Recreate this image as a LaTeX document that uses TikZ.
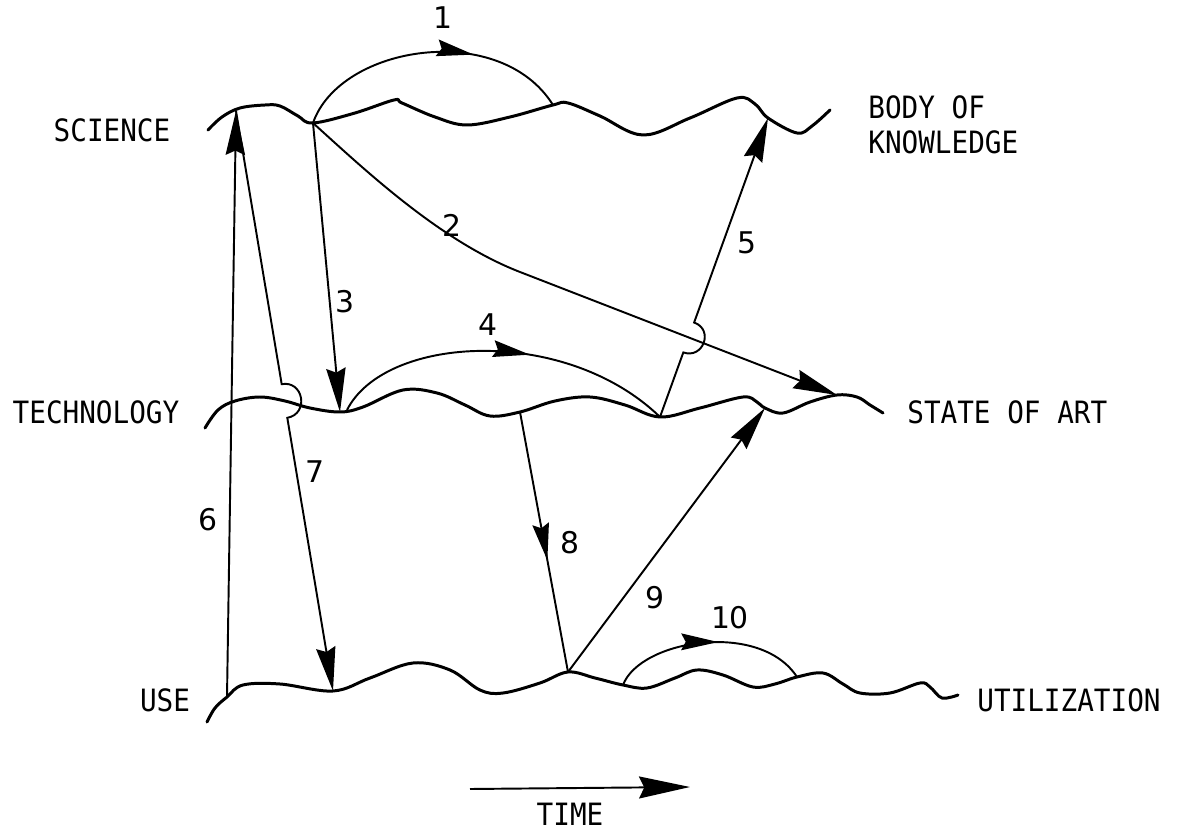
\documentclass[tikz,border=0pt]{standalone}
\usepackage{fontspec}
\setmonofont[FakeStretch=0.9]{DejaVu Sans Mono}
\newfontfamily\digitfont{DejaVu Sans}
\usetikzlibrary{arrows.meta, calc, decorations.markings}
\tikzset{
    wave/.style={line width=1.7pt, line cap=round, line join=round},
    conn/.style={line width=1.1pt},
    tipend/.style={-{Stealth[length=25pt, width=11pt, inset=2.5pt]}},
    midarrow/.style={postaction={decorate}, decoration={markings, mark=at position #1 with {\arrow{Stealth[length=21pt, width=9.5pt, inset=2.5pt]}}}},
    word/.style={font=\ttfamily\fontsize{17.5}{20}\selectfont, inner sep=0pt},
    num/.style={font=\digitfont\fontsize{17}{20}\selectfont, inner sep=0pt}
}

\begin{document}
\begin{tikzpicture}[x=0.02cm, y=-0.02cm]
    \useasboundingbox (0,0) rectangle (1181,831);

    % Levels
    \draw[wave] plot[smooth, tension=0.6] coordinates {(208,130) (222,117) (240,108) (265,105) (280,106) (298,116) (313,123) (355,113) (394,100) (402,103) (435,117) (467,125) (510,117) (553,105) (568,103) (600,116) (643,135) (690,118) (737,98) (755,104) (768,118) (797,133) (812,126) (830,110)};
    \draw[wave] plot[smooth, tension=0.6] coordinates {(205,428) (218,410) (235,401) (260,397) (285,401) (310,408) (340,412) (363,407) (403,390) (437,393) (465,405) (490,416) (520,412) (555,401) (590,397) (625,405) (660,417) (700,408) (743,397) (757,402) (765,408) (783,413) (810,402) (837,395) (857,397) (870,405) (883,413)};
    \draw[wave] plot[smooth, tension=0.6] coordinates {(207,722) (215,708) (227,697) (243,685) (280,684) (333,691) (370,678) (413,663) (450,670) (480,690) (503,693) (540,683) (568,672) (595,678) (623,685) (647,688) (675,678) (697,670) (723,675) (753,687) (775,684) (797,677) (823,673) (843,684) (860,693) (890,693) (920,683) (930,687) (942,698) (958,695)};

    % Points on the levels
    \coordinate (sciP) at (236,111);
    \coordinate (sciA) at (313,123);
    \coordinate (sciB) at (553,105);
    \coordinate (sciC) at (768,118);
    \coordinate (tecA) at (340,412);
    \coordinate (tecB) at (347,410);
    \coordinate (tecC) at (520,412);
    \coordinate (tecD) at (660,417);
    \coordinate (tecE) at (765,408);
    \coordinate (tecF) at (837,395);
    \coordinate (useA) at (227,697);
    \coordinate (useB) at (333,691);
    \coordinate (useC) at (568,672);
    \coordinate (useD) at (623,685);
    \coordinate (useE) at (797,677);
    \coordinate (bend2) at (520,272);

    % Level names
    \node[word] (science) at (112,130) {SCIENCE};
    \node[word, anchor=west, align=left] (body) at (868,125) {BODY OF\\KNOWLEDGE};
    \node[word] (tech) at (96,412) {TECHNOLOGY};
    \node[word, anchor=west] (soa) at (907,412) {STATE OF ART};
    \node[word] (use) at (165,700) {USE};
    \node[word, anchor=west] (util) at (977,700) {UTILIZATION};

    % Transfers
    \draw[conn, midarrow=0.66] (sciA) .. controls (340,45) and (500,20) .. (sciB);
    \draw[conn, tipend] (sciA) .. controls (365,170) and (440,241) .. (bend2) -- (tecF);
    \draw[conn, tipend] (sciA) -- (tecA);
    \draw[conn, midarrow=0.58] (tecB) .. controls (385,335) and (565,325) .. (tecD);
    \coordinate (h5a) at ($(tecD)!0.216!(sciC)$);
    \coordinate (h5b) at ($(tecD)!0.316!(sciC)$);
    \draw[conn, tipend] (tecD) -- (h5a) .. controls +(20,7) and +(20,7) .. (h5b) -- (sciC);
    \draw[conn, tipend] (useA) -- (sciP);
    \coordinate (h7a) at ($(sciP)!0.471!(useB)$);
    \coordinate (h7b) at ($(sciP)!0.529!(useB)$);
    \draw[conn, tipend] (sciP) -- (h7a) .. controls +(22,-4) and +(22,-4) .. (h7b) -- (useB);
    \draw[conn, midarrow=0.57] (tecC) -- (useC);
    \draw[conn, tipend] (useC) -- (tecE);
    \draw[conn, midarrow=0.55] (useD) .. controls (640,640) and (760,620) .. (useE);

    % Numbers
    \node[num] (n1) at (443,18) {1};
    \node[num] (n2) at (452,225) {2};
    \node[num] (n3) at (345,302) {3};
    \node[num] (n4) at (488,325) {4};
    \node[num] (n5) at (747,243) {5};
    \node[num] (n6) at (208,520) {6};
    \node[num] (n7) at (315,472) {7};
    \node[num] (n8) at (570,543) {8};
    \node[num] (n9) at (655,598) {9};
    \node[num] (n10) at (730,618) {10};

    % Time arrow
    \coordinate (t0) at (470,789);
    \coordinate (t1) at (690,787);
    \draw[conn, -{Stealth[length=29pt, width=12.5pt, inset=3pt]}] (t0) -- (t1);
    \node[word] (time) at (570,814) {TIME};
\end{tikzpicture}
\end{document}
